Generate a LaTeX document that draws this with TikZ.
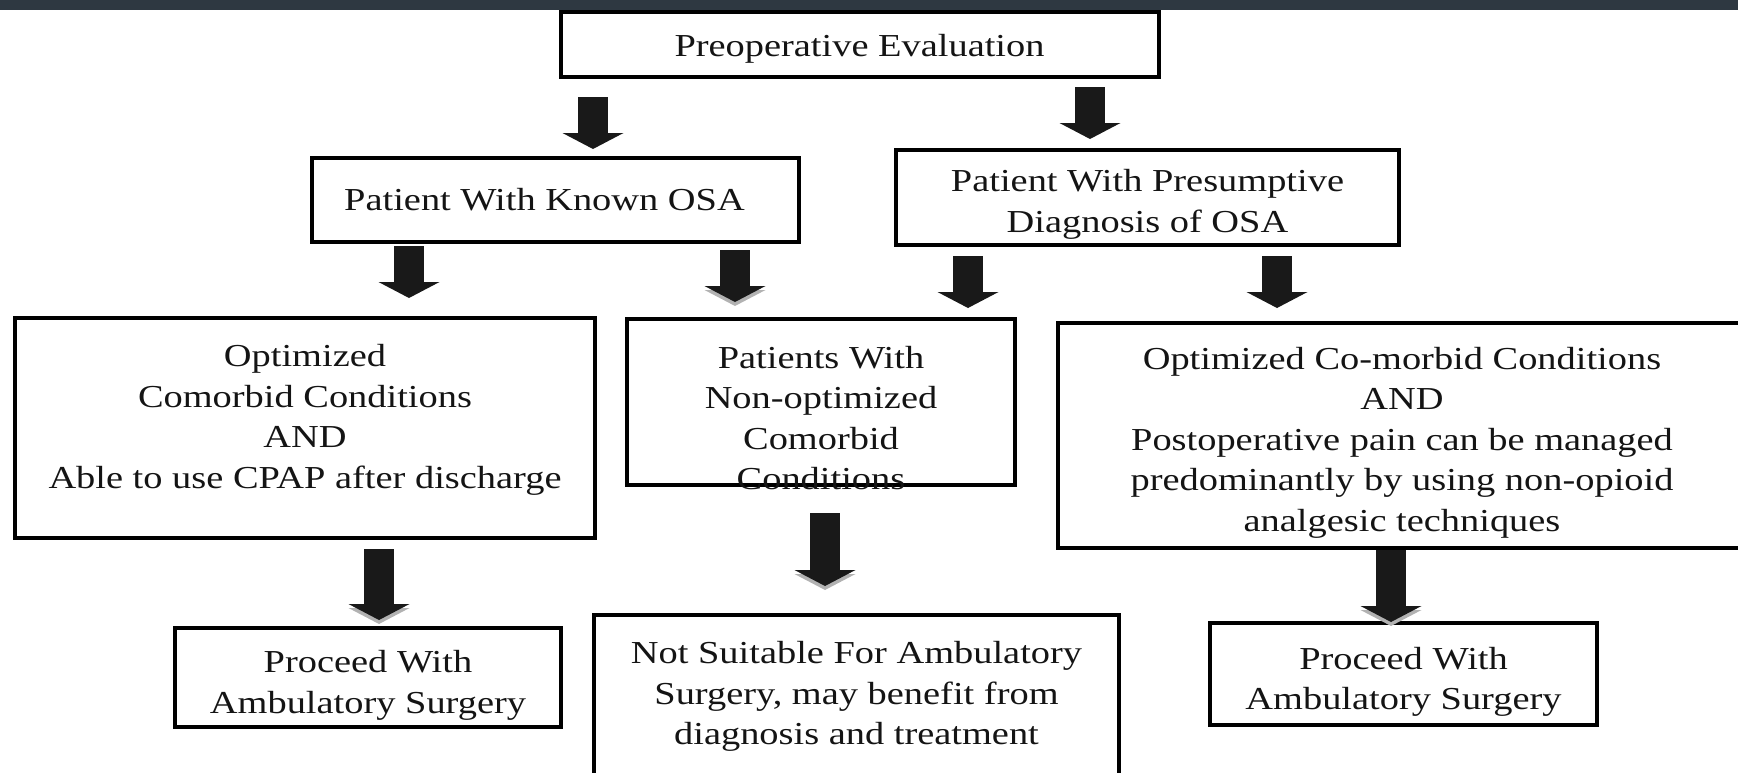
\documentclass[tikz,border=0pt]{standalone}
\usepackage{fontspec}
\setmainfont{Liberation Serif}[FakeStretch=1.2]
\usetikzlibrary{arrows.meta, positioning}
\definecolor{bandgray}{HTML}{2E3841}

\begin{document}
\begin{tikzpicture}[
      x=1pt, y=-1pt,
      box/.style = {draw, line width=4pt, outer sep=0pt, inner sep=0pt},
      txt/.style = {align=center, inner sep=0pt, text=black!92,
                    font=\fontsize{32}{40.5}\selectfont},
      flow/.style = {line width=30pt, draw=black!90,
                     arrows={-Triangle[width=61pt, length=16pt, line width=0pt]}},
      flow shadow/.style = {flow, draw=black!30,
                            transform canvas={yshift=-4pt}},
    ]
    \useasboundingbox (0,0) rectangle (1738,772);
    \fill [bandgray] (0,0) rectangle (1738,10);

    %% The evaluation and the two kinds of patients
    \node [box, minimum width=598pt, minimum height=65pt] (preop) at (859.5,44.5) {};
    \node [txt] (preop text) at ([yshift=-4pt] preop.center) {Preoperative Evaluation};

    \node [box, minimum width=487pt, minimum height=84pt] (known) at (555.5,200) {};
    \node [txt] (known text) at ([xshift=-11pt] known.center) {Patient With Known OSA};

    \node [box, minimum width=503pt, minimum height=95pt] (presump) at (1147.5,197.5) {};
    \node [txt] (presump text) at ([yshift=-7pt] presump.center)
      {Patient With Presumptive\\Diagnosis of OSA};

    %% Conditions
    \node [box, minimum width=580pt, minimum height=220pt] (optknown) at (305,428) {};
    \node [txt] (optknown text) at ([yshift=8pt] optknown.center)
      {Optimized\\Comorbid Conditions\\AND\\Able to use CPAP after discharge};

    \node [box, minimum width=388pt, minimum height=166pt] (nonopt) at (821,402) {};
    \node [txt] (nonopt text) at ([yshift=-16pt] nonopt.center)
      {Patients With\\Non-optimized\\Comorbid\\Conditions};

    \node [box, minimum width=688pt, minimum height=225pt] (optpresump) at (1402,435.5) {};
    \node [txt] (optpresump text) at ([yshift=-7pt] optpresump.center)
      {Optimized Co-morbid Conditions\\AND\\Postoperative pain can be managed\\predominantly by using non-opioid\\analgesic techniques};

    %% Outcomes
    \node [box, minimum width=386pt, minimum height=99pt] (proceedA) at (368,677.5) {};
    \node [txt] (proceedA text) at ([yshift=-8pt] proceedA.center)
      {Proceed With\\Ambulatory Surgery};

    \node [box, minimum width=525pt, minimum height=163pt] (notsuit) at (856.5,696.5) {};
    \node [txt] (notsuit text) at (notsuit.center)
      {Not Suitable For Ambulatory\\Surgery, may benefit from\\diagnosis and treatment};

    \node [box, minimum width=387pt, minimum height=102pt] (proceedB) at (1403.5,674) {};
    \node [txt] (proceedB text) at ([yshift=-8pt] proceedB.center)
      {Proceed With\\Ambulatory Surgery};

    %% Grey shadows under some of the arrow heads
    \foreach \a/\ax/\ay/\b/\bx/\by in {
        known/179.5/8/nonopt/-86/17,
        optknown/74/11/proceedA/11/8,
        nonopt/4/28/notsuit/-31.5/29,
        optpresump/-11/2/proceedB/-12.5/1}{%
      \draw [flow shadow] ([xshift=\ax pt, yshift=-\ay pt] \a.south)
        -- ([xshift=\bx pt, yshift=\by pt] \b.north);
    }

    %% Block arrows (from, shift, gap, to, shift, gap)
    \foreach \a/\ax/\ay/\b/\bx/\by in {
        preop/-266.5/20/known/37.5/9,
        preop/230.5/10/presump/-57.5/11,
        known/-146.5/4/optknown/104/20,
        known/179.5/8/nonopt/-86/17,
        presump/-179.5/11/nonopt/147/11,
        presump/129.5/11/optpresump/-125/15,
        optknown/74/11/proceedA/11/8,
        nonopt/4/28/notsuit/-31.5/29,
        optpresump/-11/2/proceedB/-12.5/1}{%
      \draw [flow] ([xshift=\ax pt, yshift=-\ay pt] \a.south)
        -- ([xshift=\bx pt, yshift=\by pt] \b.north);
    }
  \end{tikzpicture}
\end{document}
